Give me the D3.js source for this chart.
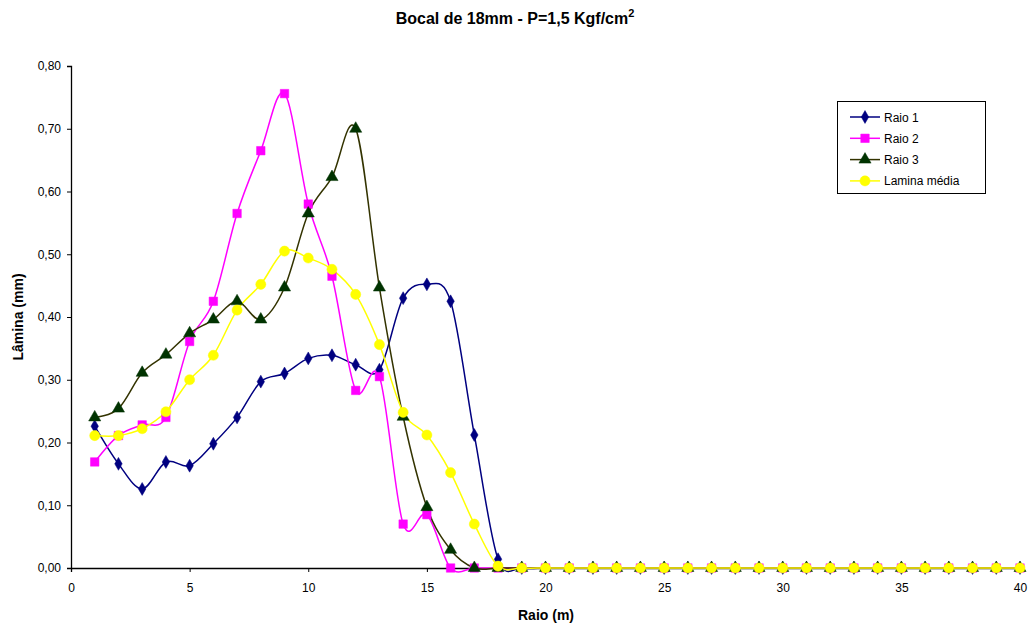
<!DOCTYPE html>
<html><head><meta charset="utf-8">
<script src="https://cdn.jsdelivr.net/npm/d3@7"></script>
<style>body{margin:0;background:#fff;} text{font-family:"Liberation Sans",Arial,sans-serif;}</style>
</head><body><svg id="c" width="1034" height="627"></svg>
<script>
const raio = d3.range(1, 41);
const raio1 = [0.226,0.166,0.126,0.169,0.163,0.198,0.240,0.297,0.310,0.334,0.339,0.324,0.316,0.430,0.452,0.425,0.212,0.014,0,0,0,0,0,0,0,0,0,0,0,0,0,0,0,0,0,0,0,0,0,0];
const raio2 = [0.169,0.211,0.228,0.240,0.361,0.425,0.565,0.665,0.756,0.580,0.465,0.283,0.305,0.070,0.085,0,0,0,0,0,0,0,0,0,0,0,0,0,0,0,0,0,0,0,0,0,0,0,0,0];
const raio3 = [0.240,0.254,0.311,0.340,0.374,0.396,0.425,0.396,0.447,0.565,0.623,0.700,0.447,0.241,0.097,0.029,0,0,0,0,0,0,0,0,0,0,0,0,0,0,0,0,0,0,0,0,0,0,0,0];
const lamina = [0.211,0.211,0.222,0.249,0.300,0.339,0.411,0.452,0.505,0.494,0.476,0.436,0.356,0.248,0.212,0.152,0.070,0.003,0,0,0,0,0,0,0,0,0,0,0,0,0,0,0,0,0,0,0,0,0,0];
const seriesNames = ["Raio 1","Raio 2","Raio 3","Lamina média"];
const xTicks = [0,5,10,15,20,25,30,35,40];
const yTicks = [0,0.1,0.2,0.3,0.4,0.5,0.6,0.7,0.8];

const styles = [
  {line:"#000080", fill:"#000080", sym:d3.symbolDiamond, size:48},
  {line:"#ff00ff", fill:"#ff00ff", sym:d3.symbolSquare, size:72},
  {line:"#333300", fill:"#003300", sym:d3.symbolTriangle, size:64},
  {line:"#ffff00", fill:"#ffff00", sym:d3.symbolCircle, size:80}
];
const data = [raio1, raio2, raio3, lamina];

const svg = d3.select("#c");
const x = d3.scaleLinear().domain([0,40]).range([71,1020]);
const y = d3.scaleLinear().domain([0,0.8]).range([568,66]);
const fmt = v => d3.format(".2f")(v).replace(".", ",");

const xAxis = svg.append("g").attr("transform","translate(0,568)")
  .call(d3.axisBottom(x).tickValues(xTicks).tickSize(4).tickPadding(11));
const yAxis = svg.append("g").attr("transform","translate(71,0)")
  .call(d3.axisLeft(y).tickValues(yTicks).tickFormat(fmt).tickSize(4).tickPadding(6));
[xAxis,yAxis].forEach(a=>{
  a.select(".domain").attr("stroke","#000").attr("stroke-width",1.3);
  a.selectAll(".tick line").attr("stroke","#000");
  a.selectAll("text").attr("font-size",12).attr("fill","#000").style("font-family","'Liberation Sans',Arial,sans-serif");
});

const line = d3.line().x((d,i)=>x(raio[i])).y(d=>y(d)).curve(d3.curveCatmullRom.alpha(0));
data.forEach((s,k)=>{
  svg.append("path").attr("d",line(s)).attr("fill","none").attr("stroke",styles[k].line).attr("stroke-width",1.5);
});
data.forEach((s,k)=>{
  const st = styles[k];
  svg.append("g").selectAll("path").data(s).join("path")
    .attr("transform",(d,i)=>`translate(${x(raio[i])},${y(d)})`)
    .attr("d",d3.symbol().type(st.sym).size(st.size))
    .attr("fill",st.fill).attr("stroke",st.fill).attr("stroke-width",0.5);
});

// title
const t = svg.append("text").attr("x",515).attr("y",24).attr("text-anchor","middle")
  .attr("font-size",16).attr("font-weight","bold");
t.append("tspan").text("Bocal de 18mm - P=1,5 Kgf/cm");
t.append("tspan").attr("font-size",11).attr("dy",-7).text("2");

svg.append("text").attr("x",546).attr("y",620).attr("text-anchor","middle")
  .attr("font-size",14).attr("font-weight","bold").text("Raio (m)");
svg.append("text").attr("transform","translate(23,317) rotate(-90)").attr("text-anchor","middle")
  .attr("font-size",14).attr("font-weight","bold").text("Lâmina (mm)");

// legend
const lg = svg.append("g");
lg.append("rect").attr("x",837.5).attr("y",101.5).attr("width",148).attr("height",92)
  .attr("fill","#fff").attr("stroke","#000").attr("stroke-width",1);
seriesNames.forEach((n,k)=>{
  const yy = 117 + k*21.3;
  const st = styles[k];
  lg.append("line").attr("x1",850).attr("x2",880).attr("y1",yy).attr("y2",yy)
    .attr("stroke",st.line).attr("stroke-width",1.5);
  lg.append("path").attr("transform",`translate(865,${yy})`)
    .attr("d",d3.symbol().type(st.sym).size(st.size)).attr("fill",st.fill).attr("stroke",st.fill).attr("stroke-width",0.5);
  lg.append("text").attr("x",884).attr("y",yy+4.5).attr("font-size",12).text(n);
});
</script></body></html>
